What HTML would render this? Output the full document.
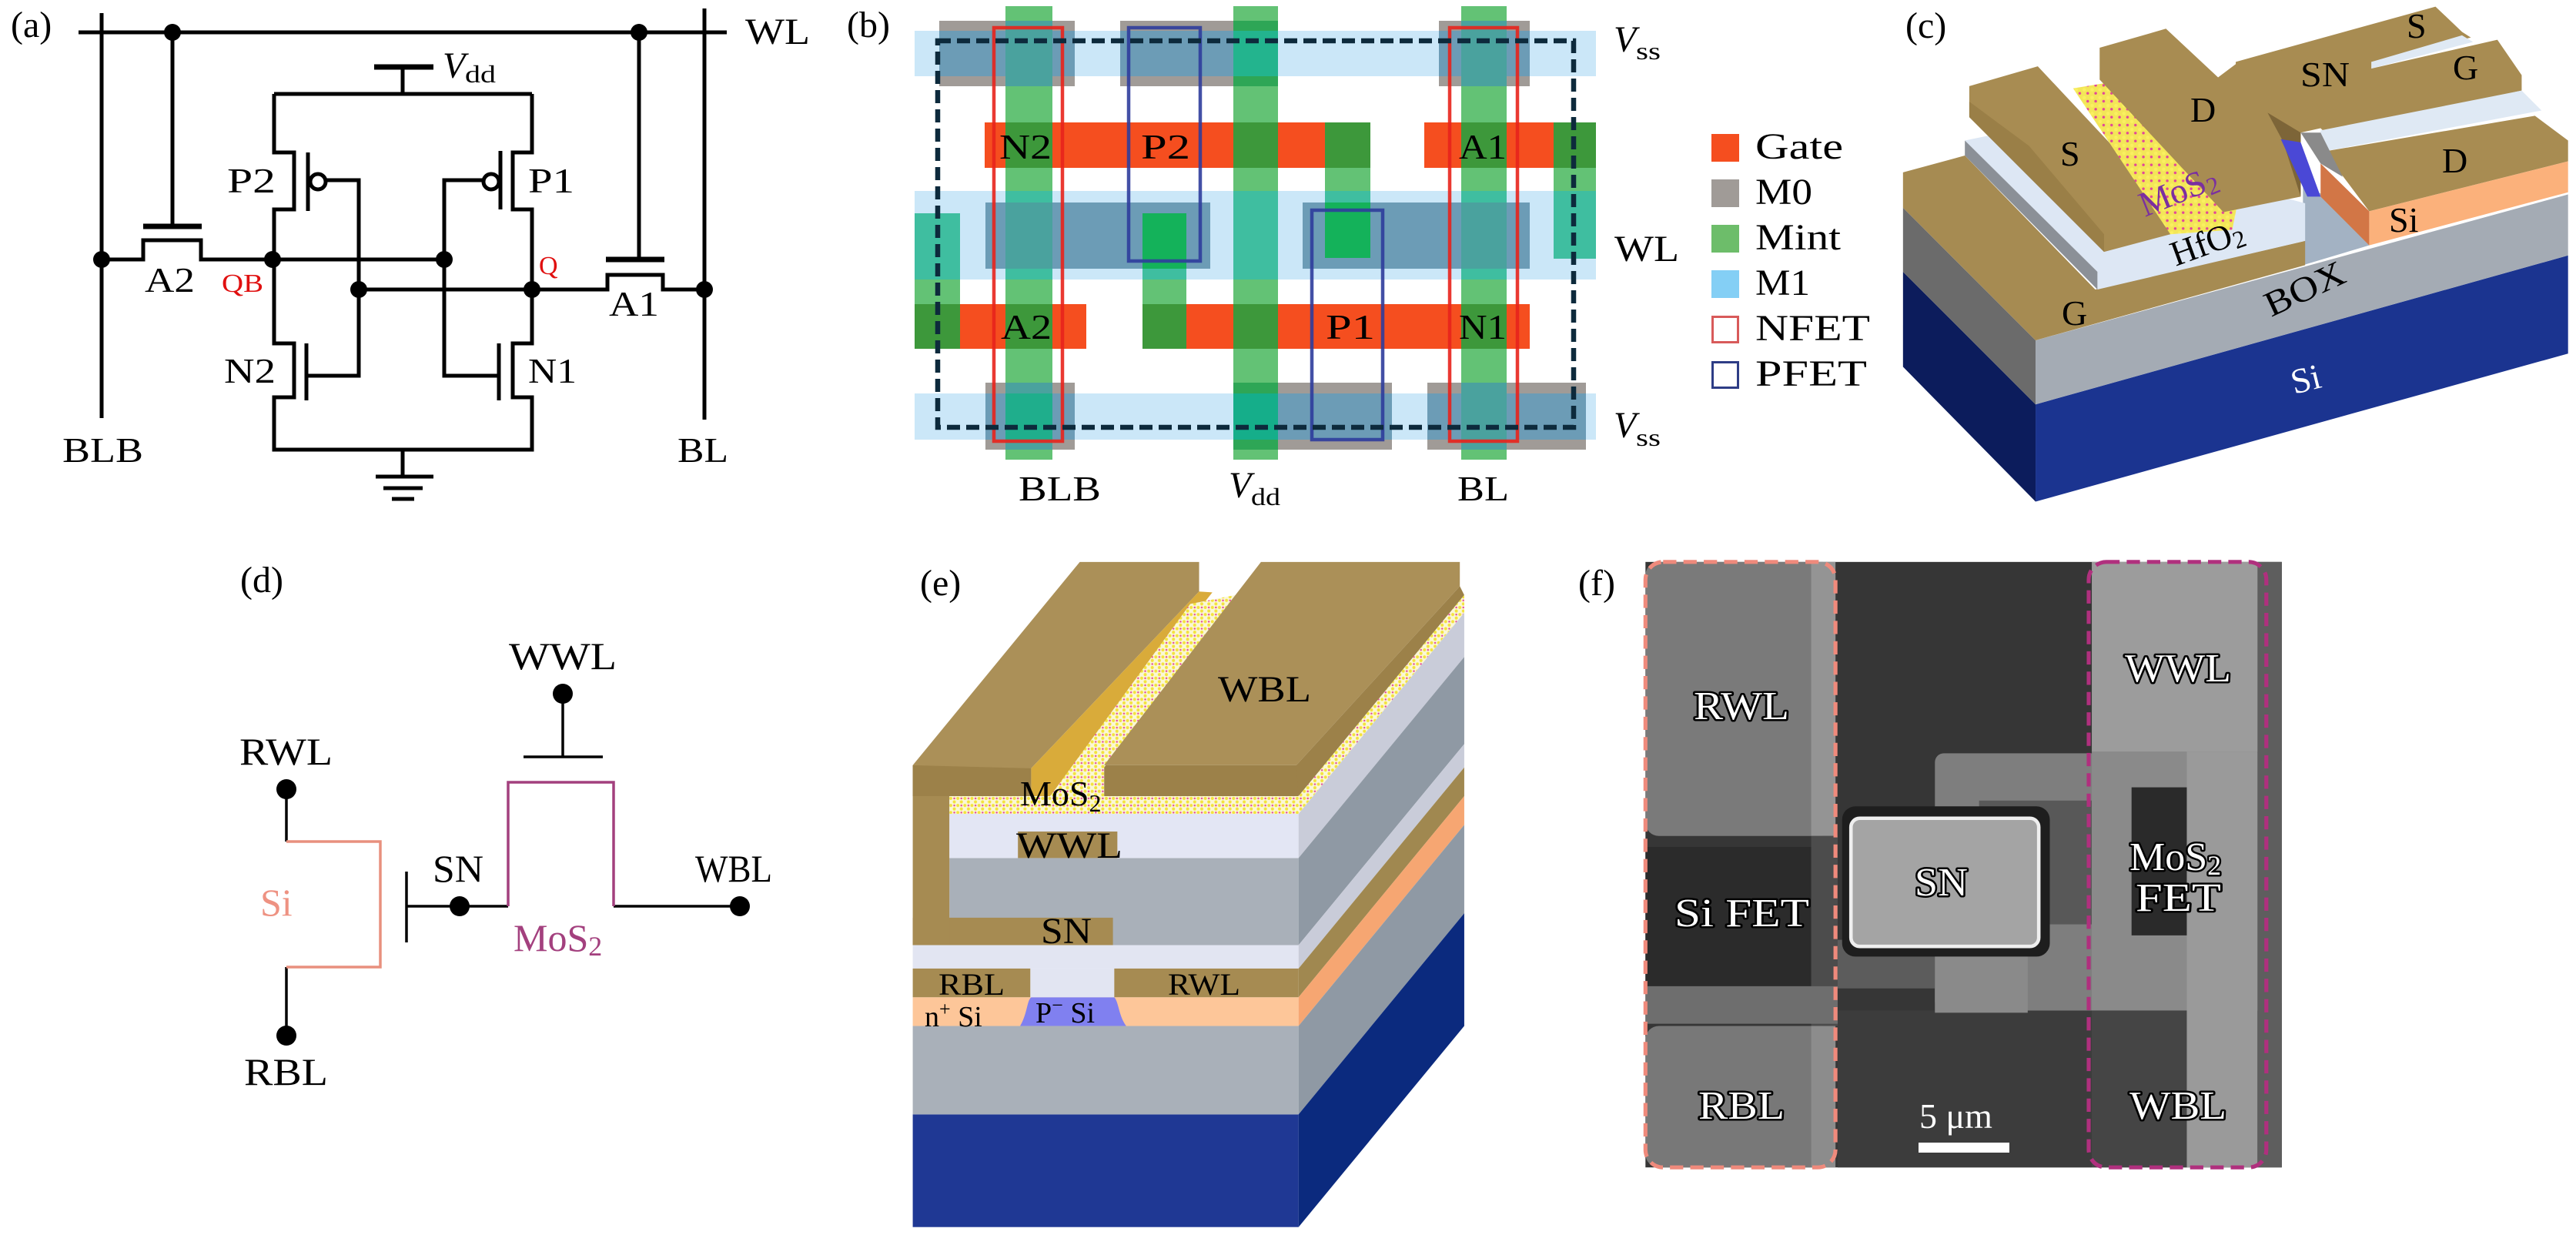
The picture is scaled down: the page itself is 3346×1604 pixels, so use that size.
<!DOCTYPE html>
<html><head><meta charset="utf-8"><style>
html,body{margin:0;padding:0;background:#fff;}
svg{display:block;}
text{font-family:"Liberation Serif",serif;}
</style></head><body>
<svg width="3346" height="1604" viewBox="0 0 3346 1604" xmlns="http://www.w3.org/2000/svg">
<defs>
<pattern id="mos" width="16" height="16" patternUnits="userSpaceOnUse"><rect width="16" height="16" fill="#fbf7d6"/><circle cx="4" cy="4" r="3.5" fill="#f3e33c"/><circle cx="12" cy="12" r="3.5" fill="#f3e33c"/><circle cx="12" cy="4" r="2.2" fill="#e4509c"/></pattern>
<pattern id="mosc" width="18" height="18" patternUnits="userSpaceOnUse"><rect width="18" height="18" fill="#f3e658"/><circle cx="5" cy="5" r="4" fill="#faf060"/><circle cx="13" cy="13" r="3" fill="#e2459a"/></pattern>
</defs>
<rect width="3346" height="1604" fill="#fff"/>

<!-- ===== Panel (a) ===== -->
<text x="14" y="48" font-size="48">(a)</text>
<g stroke="#000" stroke-width="5" fill="none">
<path d="M102,42H944 M132,17V543 M915,11V545 M224,42V294 M830,42V337"/>
<path d="M186,294H262 M787,337H863 M486,87H563" stroke-width="7"/>
<path d="M132,337H186V312H261V337H577"/>
<path d="M466,376H789V357H861V376H915"/>
<path d="M523,87V122 M356,122H691 M356,122V198H382V272H356V446H382V516H356V584H691V516H666V446H691V272H666V198H691V122"/>
<path d="M400,198V274 M398,446V520 M650,196V272 M648,446V520"/>
<path d="M423,234H466V488H400 M628,234H577V488H648"/>
<path d="M523,584V619 M488,619H563 M498,634H549 M509,648H538"/>
<circle cx="413" cy="236" r="10" fill="#fff"/>
<circle cx="638" cy="236" r="10" fill="#fff"/>
</g>
<g fill="#000">
<circle cx="132" cy="337" r="11"/><circle cx="224" cy="42" r="11"/><circle cx="830" cy="42" r="11"/>
<circle cx="354" cy="337" r="11"/><circle cx="577" cy="337" r="11"/><circle cx="466" cy="376" r="11"/>
<circle cx="691" cy="376" r="11"/><circle cx="915" cy="376" r="11"/>
</g>
<text x="968" y="57" font-size="48" textLength="84" lengthAdjust="spacingAndGlyphs">WL</text>
<text x="575" y="101" font-size="48" font-style="italic">V</text>
<text x="604" y="107" font-size="32" textLength="40" lengthAdjust="spacingAndGlyphs">dd</text>
<text x="295" y="250" font-size="46" textLength="63" lengthAdjust="spacingAndGlyphs">P2</text>
<text x="686" y="250" font-size="46" textLength="60" lengthAdjust="spacingAndGlyphs">P1</text>
<text x="291" y="497" font-size="46" textLength="67" lengthAdjust="spacingAndGlyphs">N2</text>
<text x="686" y="497" font-size="46" textLength="63" lengthAdjust="spacingAndGlyphs">N1</text>
<text x="188" y="379" font-size="46" textLength="65" lengthAdjust="spacingAndGlyphs">A2</text>
<text x="791" y="410" font-size="46" textLength="65" lengthAdjust="spacingAndGlyphs">A1</text>
<text x="288" y="379" font-size="34" fill="#e01010" textLength="54" lengthAdjust="spacingAndGlyphs">QB</text>
<text x="700" y="356" font-size="34" fill="#e01010">Q</text>
<text x="81" y="600" font-size="46" textLength="105" lengthAdjust="spacingAndGlyphs">BLB</text>
<text x="880" y="600" font-size="46" textLength="66" lengthAdjust="spacingAndGlyphs">BL</text>

<!-- ===== Panel (b) ===== -->
<text x="1100" y="48" font-size="48">(b)</text>
<g fill="#cbe7f8">
<rect x="1188" y="40" width="885" height="59"/>
<rect x="1188" y="248" width="885" height="115"/>
<rect x="1188" y="511" width="885" height="60"/>
</g>
<g fill="#a09b97">
<rect x="1220" y="27" width="176" height="85"/>
<rect x="1455" y="27" width="204" height="85"/>
<rect x="1869" y="27" width="118" height="85"/>
<rect x="1280" y="497" width="116" height="87"/>
<rect x="1660" y="497" width="148" height="87"/>
<rect x="1854" y="497" width="206" height="87"/>
</g>
<g fill="#6c9cb6">
<rect x="1220" y="40" width="176" height="59"/>
<rect x="1455" y="40" width="204" height="59"/>
<rect x="1869" y="40" width="118" height="59"/>
<rect x="1280" y="511" width="116" height="60"/>
<rect x="1660" y="511" width="148" height="60"/>
<rect x="1854" y="511" width="206" height="60"/>
<rect x="1280" y="263" width="292" height="86"/>
<rect x="1692" y="263" width="295" height="86"/>
</g>
<g fill="#f54e1f">
<rect x="1279" y="159" width="501" height="59"/>
<rect x="1850" y="159" width="223" height="59"/>
<rect x="1188" y="395" width="223" height="58"/>
<rect x="1484" y="395" width="503" height="58"/>
</g>
<g fill="#63c275">
<rect x="1306" y="8" width="61" height="589"/>
<rect x="1602" y="8" width="58" height="589"/>
<rect x="1898" y="8" width="59" height="589"/>
<rect x="1484" y="277" width="57" height="176"/>
<rect x="1721" y="159" width="59" height="176"/>
<rect x="1188" y="277" width="59" height="176"/>
<rect x="2018" y="159" width="55" height="177"/>
</g>
<g fill="#3fbea0">
<rect x="1306" y="248" width="61" height="115"/>
<rect x="1602" y="248" width="58" height="115"/>
<rect x="1898" y="248" width="59" height="115"/>
<rect x="1484" y="349" width="57" height="14"/>
<rect x="1721" y="248" width="59" height="15"/>
<rect x="1188" y="277" width="59" height="86"/>
<rect x="2018" y="248" width="55" height="88"/>
</g>
<g fill="#4aa29e">
<rect x="1306" y="27" width="61" height="85"/>
<rect x="1306" y="497" width="61" height="87"/>
<rect x="1306" y="263" width="61" height="86"/>
<rect x="1898" y="27" width="59" height="85"/>
<rect x="1898" y="497" width="59" height="87"/>
<rect x="1898" y="263" width="59" height="86"/>
</g>
<rect x="1306" y="511" width="61" height="60" fill="#1fae8c"/>
<rect x="1602" y="27" width="58" height="85" fill="#2ea656"/>
<rect x="1602" y="40" width="58" height="59" fill="#23b48e"/>
<rect x="1602" y="497" width="58" height="87" fill="#2ea656"/>
<rect x="1602" y="511" width="58" height="60" fill="#15ae8a"/>
<g fill="#14b25a">
<rect x="1484" y="277" width="57" height="72"/>
<rect x="1721" y="263" width="59" height="72"/>
</g>
<g fill="#3d983b">
<rect x="1306" y="159" width="61" height="59"/><rect x="1306" y="395" width="61" height="58"/>
<rect x="1602" y="159" width="58" height="59"/><rect x="1602" y="395" width="58" height="58"/>
<rect x="1898" y="159" width="59" height="59"/><rect x="1898" y="395" width="59" height="58"/>
<rect x="1484" y="395" width="57" height="58"/>
<rect x="1721" y="159" width="59" height="59"/>
<rect x="1188" y="395" width="59" height="58"/>
<rect x="2018" y="159" width="55" height="59"/>
</g>
<g fill="none" stroke-width="4.5" opacity="0.9">
<rect x="1291" y="36" width="89" height="537" stroke="#e8231c"/>
<rect x="1883" y="36" width="88" height="537" stroke="#e8231c"/>
<rect x="1466" y="36" width="93" height="303" stroke="#2f3d9c"/>
<rect x="1704" y="273" width="92" height="298" stroke="#2f3d9c"/>
</g>
<rect x="1218" y="53" width="826" height="502" fill="none" stroke="#0d2a3c" stroke-width="6.5" stroke-dasharray="17 8"/>
<g font-size="46">
<text x="1298" y="206" textLength="68" lengthAdjust="spacingAndGlyphs">N2</text>
<text x="1482" y="206" textLength="64" lengthAdjust="spacingAndGlyphs">P2</text>
<text x="1895" y="206" textLength="62" lengthAdjust="spacingAndGlyphs">A1</text>
<text x="1300" y="440" textLength="66" lengthAdjust="spacingAndGlyphs">A2</text>
<text x="1722" y="440" textLength="64" lengthAdjust="spacingAndGlyphs">P1</text>
<text x="1895" y="440" textLength="62" lengthAdjust="spacingAndGlyphs">N1</text>
</g>
<text x="2096" y="67" font-size="48" font-style="italic">V</text>
<text x="2125" y="77" font-size="32" textLength="32" lengthAdjust="spacingAndGlyphs">ss</text>
<text x="2096" y="568" font-size="48" font-style="italic">V</text>
<text x="2125" y="579" font-size="32" textLength="32" lengthAdjust="spacingAndGlyphs">ss</text>
<text x="2097" y="339" font-size="48" textLength="84" lengthAdjust="spacingAndGlyphs">WL</text>
<text x="1323" y="650" font-size="46" textLength="107" lengthAdjust="spacingAndGlyphs">BLB</text>
<text x="1596" y="646" font-size="48" font-style="italic">V</text>
<text x="1625" y="656" font-size="32" textLength="38" lengthAdjust="spacingAndGlyphs">dd</text>
<text x="1893" y="650" font-size="46" textLength="67" lengthAdjust="spacingAndGlyphs">BL</text>
<rect x="2223" y="174" width="36" height="36" fill="#f54e1f"/>
<rect x="2223" y="233" width="36" height="36" fill="#a09b97"/>
<rect x="2223" y="292" width="36" height="36" fill="#6dbd6a"/>
<rect x="2223" y="351" width="36" height="36" fill="#84cff5"/>
<rect x="2224.5" y="411.5" width="33" height="33" fill="#fff" stroke="#d85a5a" stroke-width="3"/>
<rect x="2224.5" y="470.5" width="33" height="33" fill="#fff" stroke="#2e3d86" stroke-width="3"/>
<g font-size="48">
<text x="2280" y="206" textLength="114" lengthAdjust="spacingAndGlyphs">Gate</text>
<text x="2280" y="265" textLength="74" lengthAdjust="spacingAndGlyphs">M0</text>
<text x="2280" y="324" textLength="111" lengthAdjust="spacingAndGlyphs">Mint</text>
<text x="2280" y="383" textLength="71" lengthAdjust="spacingAndGlyphs">M1</text>
<text x="2280" y="442" textLength="149" lengthAdjust="spacingAndGlyphs">NFET</text>
<text x="2280" y="501" textLength="145" lengthAdjust="spacingAndGlyphs">PFET</text>
</g>

<!-- ===== Panel (c) ===== -->
<text x="2475" y="49" font-size="48">(c)</text>
<g transform="translate(2446,0) scale(0.574)">
<polygon points="45,615 345,915 345,1135 45,830" fill="#0c1c5c"/>
<polygon points="345,915 1550,578 1550,800 345,1135" fill="#1b3490"/>
<polygon points="45,470 345,770 345,915 45,615" fill="#6b6b6b"/>
<polygon points="345,770 1550,440 1550,578 345,915" fill="#a4abb4"/>
<polygon points="950,420 995,440 1100,555 950,600" fill="#a3b2c3"/>
<polygon points="45,390 185,352 480,655 955,545 955,600 345,770 45,470" fill="#a68b52"/>
<polygon points="185,318 320,290 955,460 955,545 485,655 485,615" fill="#dde7f4"/>
<polygon points="185,318 185,352 485,655 485,615" fill="#8b9097"/>
<polygon points="195,195 350,150 650,470 650,530 500,570 195,265" fill="#a88c52"/>
<polygon points="195,230 330,330 500,530 500,570 195,265" fill="#9a7f47"/>
<polygon points="430,200 520,185 800,470 790,520 650,530" fill="url(#mosc)"/>
<polygon points="490,108 640,65 758,175 798,145 798,140 1250,15 1310,72 1330,85 1105,140 1105,155 1390,90 1445,170 1445,205 1000,300 990,290 945,300 945,445 770,480 490,180" fill="#a88c52"/>
<polygon points="870,255 945,300 945,445 905,320" fill="#7d6538"/>
<polygon points="990,295 1445,205 1490,250 985,345" fill="#dfe9f4"/>
<polygon points="1105,140 1310,80 1335,95 1105,155" fill="#dfe9f4"/>
<polygon points="985,345 1475,262 1550,318 1550,365 1100,478 1040,398" fill="#a88c52"/>
<polygon points="1100,478 1550,365 1550,435 1100,555" fill="#fbb17b"/>
<polygon points="990,370 1100,478 1100,555 990,445" fill="#d27646"/>
<polygon points="945,300 990,300 1040,400 990,370" fill="#8a8a8a"/>
<polygon points="900,315 945,322 990,445 960,445" fill="#4a48d6"/>
</g>
<g font-size="46">
<text x="2676" y="215">S</text>
<text x="2845" y="158">D</text>
<text x="2988" y="112" textLength="64" lengthAdjust="spacingAndGlyphs">SN</text>
<text x="3126" y="49">S</text>
<text x="3186" y="103">G</text>
<text x="3172" y="224">D</text>
<text x="3103" y="301">Si</text>
<text x="2678" y="422">G</text>
<text transform="translate(2786,282) rotate(-22)" fill="#7a2fa0">MoS<tspan font-size="32" dy="6">2</tspan></text>
<text transform="translate(2826,346) rotate(-20)">HfO<tspan font-size="32" dy="6">2</tspan></text>
<text transform="translate(2950,412) rotate(-25)" textLength="110" lengthAdjust="spacingAndGlyphs">BOX</text>
<text transform="translate(2980,512) rotate(-14)" fill="#fff">Si</text>
</g>

<!-- ===== Panel (d) ===== -->
<text x="312" y="769" font-size="48">(d)</text>
<g stroke-width="3.5" fill="none">
<path d="M731,901V983 M680,983H783 M529,1177H660 M797,1177H961 M528,1132V1224 M372,1025V1093 M372,1256V1345" stroke="#000"/>
<path d="M660,1177V1016H797V1177" stroke="#a3407e"/>
<path d="M372,1093H494V1256H372" stroke="#e8907e"/>
</g>
<g fill="#000">
<circle cx="731" cy="901" r="13"/><circle cx="597" cy="1177" r="13"/><circle cx="961" cy="1177" r="13"/>
<circle cx="372" cy="1025" r="13"/><circle cx="372" cy="1345" r="13"/>
</g>
<g font-size="50">
<text x="661" y="869" textLength="140" lengthAdjust="spacingAndGlyphs">WWL</text>
<text x="311" y="993" textLength="121" lengthAdjust="spacingAndGlyphs">RWL</text>
<text x="562" y="1145" textLength="66" lengthAdjust="spacingAndGlyphs">SN</text>
<text x="903" y="1145" textLength="100" lengthAdjust="spacingAndGlyphs">WBL</text>
<text x="338" y="1189" fill="#ee9282">Si</text>
<text x="667" y="1235" fill="#a3407e">MoS<tspan font-size="36" dy="6">2</tspan></text>
<text x="317" y="1409" textLength="109" lengthAdjust="spacingAndGlyphs">RBL</text>
</g>

<!-- ===== Panel (e) ===== -->
<text x="1195" y="773" font-size="48">(e)</text>
<g transform="translate(1150,704) scale(0.574)">
<rect x="62" y="1295" width="873" height="255" fill="#1f3894"/>
<rect x="62" y="1095" width="873" height="200" fill="#a9b0b9"/>
<rect x="62" y="1030" width="873" height="65" fill="#fdc699"/>
<path d="M305,1095 C322,1065 320,1038 330,1030 L518,1030 C528,1040 528,1072 545,1095 Z" fill="#8080f0"/>
<rect x="62" y="912" width="873" height="53" fill="#e2e5f2"/>
<rect x="328" y="965" width="190" height="65" fill="#e2e5f2"/>
<rect x="62" y="965" width="266" height="65" fill="#a68b52"/>
<rect x="518" y="965" width="417" height="65" fill="#a68b52"/>
<rect x="145" y="715" width="790" height="197" fill="#a9b0b9"/>
<rect x="62" y="850" width="453" height="62" fill="#a68b52"/>
<rect x="62" y="505" width="83" height="407" fill="#a68b52"/>
<rect x="145" y="615" width="790" height="100" fill="#e3e6f4"/>
<rect x="300" y="655" width="225" height="60" fill="#a68b52"/>
<rect x="145" y="575" width="790" height="40" fill="url(#mos)"/>
<polygon points="62,505 330,505 330,575 62,575" fill="#9c8149"/>
<polygon points="495,505 935,505 935,575 495,575" fill="#9c8149"/>
<polygon points="62,505 440,45 710,45 710,112 330,512" fill="#ab9058"/>
<polygon points="330,575 330,512 710,112 740,114 373,575" fill="#d9ab3a"/>
<polygon points="373,575 690,140 801,118 495,510 495,575" fill="url(#mos)"/>
<polygon points="495,505 850,45 1300,45 1300,100 930,505" fill="#ab9058"/>
<polygon points="930,505 1300,100 1310,120 935,575" fill="#9c8149"/>
<polygon points="935,575 1310,120 1310,160 935,615" fill="url(#mos)"/>
<polygon points="935,615 1310,160 1310,260 935,715" fill="#c9ccd9"/>
<polygon points="935,715 1310,260 1310,457 935,912" fill="#8f99a4"/>
<polygon points="935,912 1310,457 1310,510 935,965" fill="#c9ccd9"/>
<polygon points="935,965 1310,510 1310,575 935,1030" fill="#a08850"/>
<polygon points="935,1030 1310,575 1310,640 935,1095" fill="#f6a672"/>
<polygon points="935,1095 1310,640 1310,840 935,1295" fill="#8f99a4"/>
<polygon points="935,1295 1310,840 1310,1095 935,1550" fill="#0b2a7e"/>
</g>
<text x="1582" y="911" font-size="48" textLength="121" lengthAdjust="spacingAndGlyphs">WBL</text>
<text x="1325" y="1046" font-size="46">MoS<tspan font-size="32" dy="8">2</tspan></text>
<text x="1320" y="1114" font-size="48" textLength="138" lengthAdjust="spacingAndGlyphs">WWL</text>
<text x="1352" y="1225" font-size="48" textLength="66" lengthAdjust="spacingAndGlyphs">SN</text>
<text x="1219" y="1292" font-size="40" textLength="86" lengthAdjust="spacingAndGlyphs">RBL</text>
<text x="1517" y="1292" font-size="40" textLength="94" lengthAdjust="spacingAndGlyphs">RWL</text>
<text x="1201" y="1333" font-size="38">n<tspan font-size="26" dy="-14">+</tspan><tspan dy="14"> Si</tspan></text>
<text x="1345" y="1328" font-size="38">P<tspan font-size="26" dy="-14">−</tspan><tspan dy="14"> Si</tspan></text>

<!-- ===== Panel (f) ===== -->
<text x="2050" y="773" font-size="48">(f)</text>
<g transform="translate(2100,704) scale(0.574)">
<rect x="65" y="45" width="1440" height="1370" fill="#363636"/>
<rect x="500" y="1060" width="575" height="355" fill="#3c3c3c"/>
<rect x="65" y="45" width="430" height="620" rx="30" fill="#7a7a7a"/>
<rect x="440" y="45" width="55" height="620" fill="#949494"/>
<rect x="65" y="690" width="380" height="315" fill="#2b2b2b"/>
<rect x="440" y="665" width="60" height="430" fill="#4c4c4c"/>
<rect x="65" y="1005" width="435" height="85" fill="#6e6e6e"/>
<rect x="65" y="1095" width="430" height="320" rx="30" fill="#787878"/>
<rect x="440" y="1095" width="55" height="320" fill="#8c8c8c"/>
<path d="M500,900 L720,900 L720,1060 L1075,1060 L1075,1010 L500,1010 Z" fill="#5c5c5c"/>
<rect x="720" y="478" width="785" height="582" rx="20" fill="#7e7e7e"/>
<rect x="820" y="585" width="255" height="280" fill="#585858"/>
<rect x="1075" y="45" width="400" height="430" fill="#9c9c9c"/>
<rect x="1075" y="475" width="375" height="585" fill="#8a8a8a"/>
<rect x="1165" y="555" width="130" height="335" fill="#2a2a2a"/>
<rect x="1075" y="1060" width="215" height="355" fill="#454545"/>
<rect x="1290" y="475" width="160" height="940" fill="#9a9a9a"/>
<rect x="1450" y="45" width="55" height="1370" fill="#5e5e5e"/>
<rect x="720" y="915" width="210" height="150" fill="#8a8a8a"/>
<rect x="510" y="598" width="470" height="340" rx="30" fill="#1e1e1e"/>
<rect x="530" y="625" width="425" height="290" rx="20" fill="#a4a4a4" stroke="#eeeeee" stroke-width="8"/>
<rect x="65" y="45" width="430" height="1370" rx="40" fill="none" stroke="#ef8a7c" stroke-width="9" stroke-dasharray="30 16"/>
<rect x="1068" y="45" width="402" height="1370" rx="40" fill="none" stroke="#b0307e" stroke-width="9" stroke-dasharray="30 16"/>
</g>
<g font-size="52" fill="#fff" stroke="#000" stroke-width="5" paint-order="stroke" stroke-linejoin="round">
<text x="2200" y="934" textLength="124" lengthAdjust="spacingAndGlyphs">RWL</text>
<text x="2175" y="1203" textLength="175" lengthAdjust="spacingAndGlyphs">Si FET</text>
<text x="2206" y="1453" textLength="112" lengthAdjust="spacingAndGlyphs">RBL</text>
<text x="2760" y="885" textLength="138" lengthAdjust="spacingAndGlyphs">WWL</text>
<text x="2766" y="1130">MoS<tspan font-size="36" dy="6">2</tspan></text>
<text x="2774" y="1183" textLength="111" lengthAdjust="spacingAndGlyphs">FET</text>
<text x="2766" y="1453" textLength="126" lengthAdjust="spacingAndGlyphs">WBL</text>
<text x="2487" y="1163" textLength="69" lengthAdjust="spacingAndGlyphs">SN</text>
</g>
<text x="2493" y="1465" font-size="46" fill="#fff">5 μm</text>
<rect x="2492" y="1484" width="118" height="13" fill="#fff"/>
</svg>
</body></html>
